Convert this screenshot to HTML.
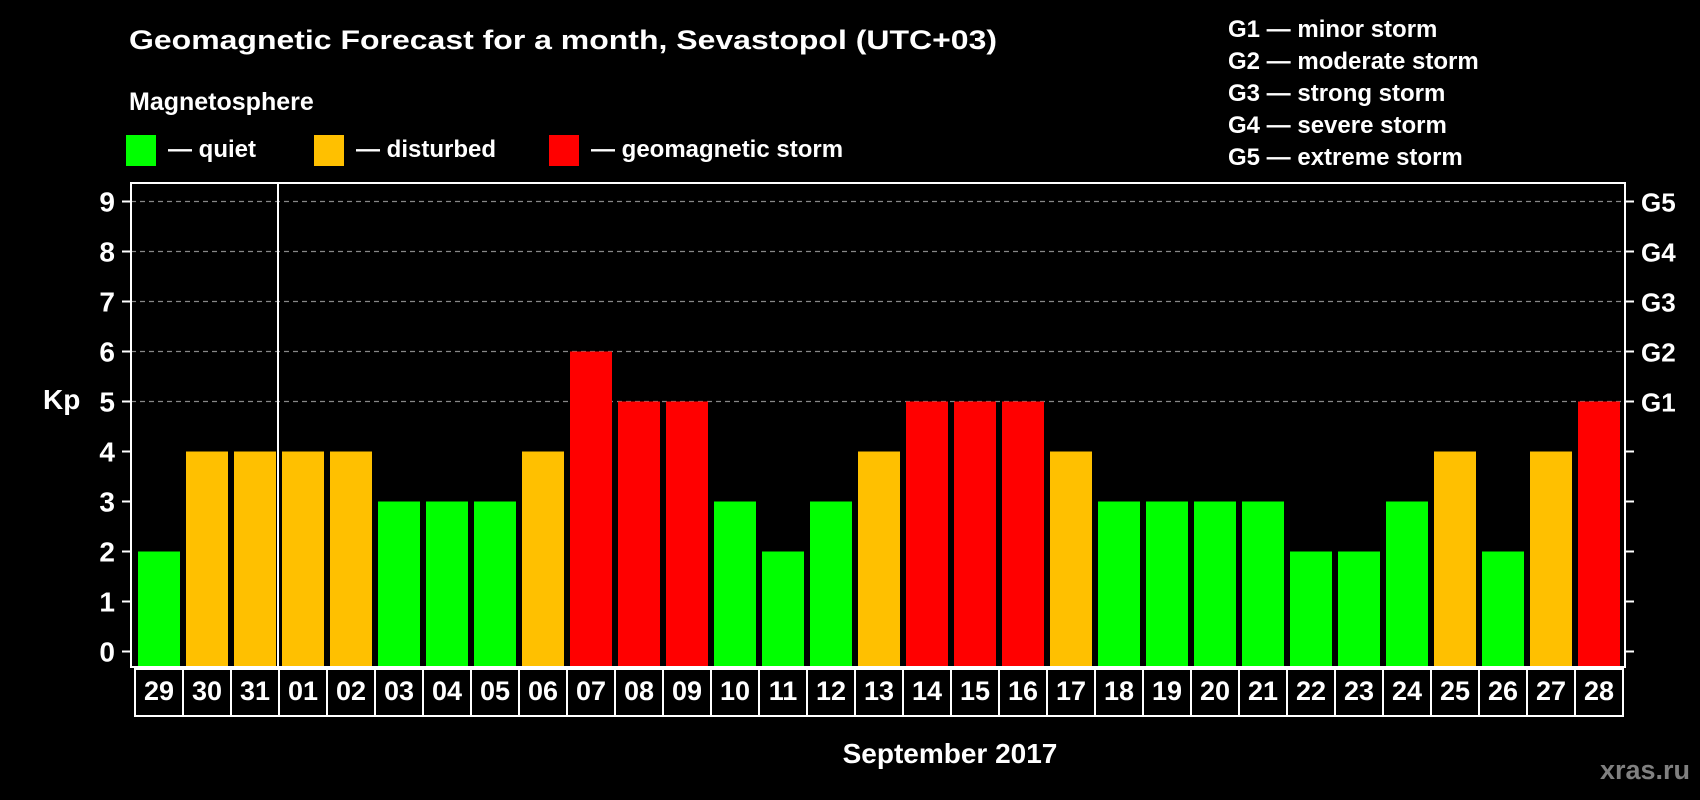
<!DOCTYPE html>
<html><head><meta charset="utf-8"><style>
html,body{margin:0;padding:0;background:#000;}
svg{display:block;font-family:"Liberation Sans",Arial,sans-serif;font-weight:bold;}
</style></head><body>
<svg id="chart" width="1700" height="800" viewBox="0 0 1700 800" xmlns="http://www.w3.org/2000/svg">
<rect width="1700" height="800" fill="#000"/>
<text x="129" y="49" fill="#fff" font-size="27" textLength="868" lengthAdjust="spacingAndGlyphs">Geomagnetic Forecast for a month, Sevastopol (UTC+03)</text>
<text x="129" y="110" fill="#fff" font-size="25">Magnetosphere</text>
<rect x="126" y="135" width="30" height="31" fill="#00ff00"/>
<text x="168" y="157" fill="#fff" font-size="24">— quiet</text>
<rect x="314" y="135" width="30" height="31" fill="#ffc000"/>
<text x="356" y="157" fill="#fff" font-size="24">— disturbed</text>
<rect x="549" y="135" width="30" height="31" fill="#ff0000"/>
<text x="591" y="157" fill="#fff" font-size="24">— geomagnetic storm</text>
<g fill="#fff" font-size="24">
<text x="1228" y="37">G1 — minor storm</text>
<text x="1228" y="69">G2 — moderate storm</text>
<text x="1228" y="101">G3 — strong storm</text>
<text x="1228" y="133">G4 — severe storm</text>
<text x="1228" y="165">G5 — extreme storm</text>
</g>
<text x="43" y="409" fill="#fff" font-size="28">Kp</text>
<text x="950" y="763" fill="#fff" font-size="28" text-anchor="middle">September 2017</text>
<text x="1690" y="779" fill="#808080" font-size="27" text-anchor="end">xras.ru</text>
<g id="grid"></g><g id="bars"></g><g id="axes"></g>
</svg>
<script>
const days = ["29","30","31","01","02","03","04","05","06","07","08","09","10","11","12","13","14","15","16","17","18","19","20","21","22","23","24","25","26","27","28"];
const kp = [2,4,4,4,4,3,3,3,4,6,5,5,3,2,3,4,5,5,5,4,3,3,3,3,2,2,3,4,2,4,5];
const yTicks = [0,1,2,3,4,5,6,7,8,9];
const gLabels = ["","","","","","G1","G2","G3","G4","G5"];
const NS = "http://www.w3.org/2000/svg";
const plotL = 131, plotR = 1625, plotT = 183, plotB = 667;
const cellX0 = 135, cellW = 48;
function y(v){return 651.5 - v*50;}
function x(i){return cellX0 + i*cellW;}
function mk(tag, attrs, parent){const e=document.createElementNS(NS,tag);for(const k in attrs)e.setAttribute(k,attrs[k]);parent.appendChild(e);return e;}
function color(v){return v>=5?"#ff0000":(v>=4?"#ffc000":"#00ff00");}
const grid=document.getElementById("grid"), bars=document.getElementById("bars"), axes=document.getElementById("axes");
yTicks.forEach((t)=>{
  if(t>=5){const l=mk("line",{x1:plotL,x2:plotR,y1:y(t),y2:y(t),stroke:"#888","stroke-width":1.3,"stroke-dasharray":"5,4"},grid);
    
    }
  const lt=mk("line",{x1:122,x2:plotL,y1:y(t),y2:y(t),stroke:"#fff","stroke-width":2},axes);
  
  
  const rt=mk("line",{x1:plotR,x2:1634,y1:y(t),y2:y(t),stroke:"#fff","stroke-width":2},axes);
  
  
  const tl=mk("text",{x:115,y:y(t)+10,fill:"#fff","font-size":28,"text-anchor":"end"},axes);
  tl.textContent=t;
  
  
  if(gLabels[t]){const gl=mk("text",{x:1641,y:y(t)+10,fill:"#fff","font-size":26},axes);
    gl.textContent=gLabels[t];
    
    }
});
kp.forEach((v,i)=>{
  const b=mk("rect",{x:x(i)+3,y:y(v),width:42,height:plotB-y(v),fill:color(v)},bars);
  
  
  const c=mk("rect",{x:x(i),y:669,width:cellW,height:47,fill:"#000",stroke:"#fff","stroke-width":2},axes);
  
  
  const dl=mk("text",{x:x(i)+cellW/2,y:700,fill:"#fff","font-size":27,"text-anchor":"middle"},axes);
  dl.textContent=days[i];
  
  
});
const frame=mk("rect",{x:plotL,y:plotT,width:plotR-plotL,height:plotB-plotT,fill:"none",stroke:"#fff","stroke-width":2},axes);


const sep=mk("line",{x1:x(3)-1,x2:x(3)-1,y1:plotT,y2:plotB,stroke:"#fff","stroke-width":2},axes);


</script>
</body></html>
